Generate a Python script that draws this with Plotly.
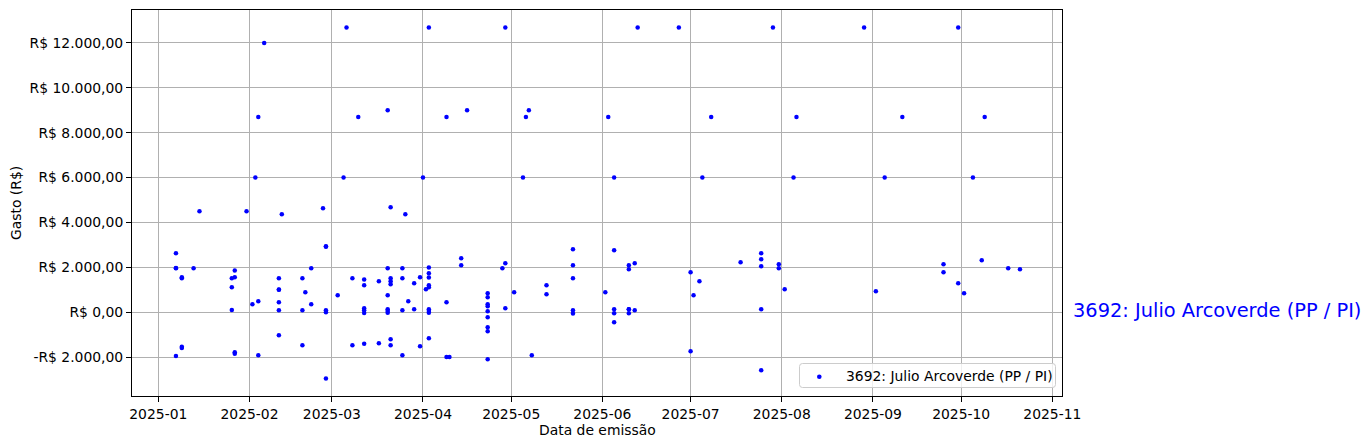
import plotly.graph_objects as go

# ---- data ----
dates = [
    "2025-01-07", "2025-01-07", "2025-01-07", "2025-01-07",
    "2025-01-09", "2025-01-09", "2025-01-09", "2025-01-09",
    "2025-01-13", "2025-01-15",
    "2025-01-26", "2025-01-26", "2025-01-26",
    "2025-01-27", "2025-01-27", "2025-01-27", "2025-01-27",
    "2025-01-31",
    "2025-02-02", "2025-02-03", "2025-02-04", "2025-02-04", "2025-02-04", "2025-02-06",
    "2025-02-11", "2025-02-11", "2025-02-11", "2025-02-11", "2025-02-11", "2025-02-11",
    "2025-02-12",
    "2025-02-19", "2025-02-19", "2025-02-19", "2025-02-20",
    "2025-02-22", "2025-02-22",
    "2025-02-26", "2025-02-27", "2025-02-27", "2025-02-27", "2025-02-27", "2025-02-27",
    "2025-03-03", "2025-03-05", "2025-03-06", "2025-03-08", "2025-03-08", "2025-03-10",
    "2025-03-12", "2025-03-12", "2025-03-12", "2025-03-12", "2025-03-12", "2025-03-12",
    "2025-03-17", "2025-03-17",
    "2025-03-20", "2025-03-20", "2025-03-20", "2025-03-20", "2025-03-20", "2025-03-20",
    "2025-03-21", "2025-03-21", "2025-03-21", "2025-03-21", "2025-03-21", "2025-03-21",
    "2025-03-25", "2025-03-25", "2025-03-25", "2025-03-25",
    "2025-03-26", "2025-03-27", "2025-03-29", "2025-03-29", "2025-03-31", "2025-03-31",
    "2025-04-01", "2025-04-02", "2025-04-03",
    "2025-04-03", "2025-04-03", "2025-04-03", "2025-04-03", "2025-04-03",
    "2025-04-03", "2025-04-03", "2025-04-03", "2025-04-03",
    "2025-04-09", "2025-04-09", "2025-04-09", "2025-04-10",
    "2025-04-14", "2025-04-14", "2025-04-16",
    "2025-04-23", "2025-04-23", "2025-04-23", "2025-04-23", "2025-04-23",
    "2025-04-23", "2025-04-23", "2025-04-23", "2025-04-23",
    "2025-04-28", "2025-04-29", "2025-04-29", "2025-04-29",
    "2025-05-02", "2025-05-05", "2025-05-06", "2025-05-07", "2025-05-08",
    "2025-05-13", "2025-05-13",
    "2025-05-22", "2025-05-22", "2025-05-22", "2025-05-22", "2025-05-22",
    "2025-06-02", "2025-06-03", "2025-06-05",
    "2025-06-05", "2025-06-05", "2025-06-05", "2025-06-05",
    "2025-06-10", "2025-06-10", "2025-06-10", "2025-06-10", "2025-06-10",
    "2025-06-12", "2025-06-12", "2025-06-13", "2025-06-27",
    "2025-07-01", "2025-07-01", "2025-07-02", "2025-07-04", "2025-07-05", "2025-07-08",
    "2025-07-18",
    "2025-07-25", "2025-07-25", "2025-07-25", "2025-07-25", "2025-07-25",
    "2025-07-29", "2025-07-31", "2025-07-31",
    "2025-08-02", "2025-08-05", "2025-08-06", "2025-08-29",
    "2025-09-02", "2025-09-05", "2025-09-11", "2025-09-25", "2025-09-25",
    "2025-09-30", "2025-09-30",
    "2025-10-02", "2025-10-05", "2025-10-08", "2025-10-09", "2025-10-17", "2025-10-21",
]

values = [
    2630, 1960, 1975, -1950,
    1560, 1515, -1535, -1590,
    1960, 4500,
    1115, 1515, 100,
    1855, 1560, -1785, -1845,
    4500,
    360, 6000, 490, -1920, 8700, 12000,
    1515, 1000, 1010, 445, 90, -1025,
    4370,
    1515, 90, -1470, 890,
    1960, 360,
    4640, 2940, 2920, 90, 0, -2950,
    760, 6000, 12690, 1515, -1470, 8700,
    1455, 1205, 180, 90, -30, -1400,
    1385, -1385,
    1960, 9000, 760, 135, 60, -20,
    4680, 1515, 1385, 1250, -1205, -1470,
    1960, 1515, 90, -1920,
    4370, 490, 1290, 135, 1560, -1515,
    6000, 1025, 12690,
    1990, 1740, 1545, 1205, 1115,
    135, 50, -20, -1160,
    8700, 445, -2000, -2000,
    2410, 2095, 9000,
    845, 670, 355, 270, 45,
    -225, -670, -845, -2095,
    1960, 12690, 2185, 180,
    890, 6000, 8700, 9000, -1920,
    1205, 805,
    2810, 2095, 1515, 90, -60,
    890, 8700, 6000,
    2765, 135, -45, -445,
    2095, 1920, 135, 130, -45,
    2185, 90, 12690, 12690,
    1785, -1740, 760, 1385, 6000, 8700,
    2230,
    2630, 2365, 2050, 135, -2590,
    12690, 2140, 1960,
    1025, 6000, 8700, 12690,
    935, 6000, 8700, 2140, 1785,
    12690, 1290,
    845, 6000, 2320, 8700, 1960, 1920,
]

series_name = "3692: Julio Arcoverde (PP / PI)"
y_tick_vals = [-2000, 0, 2000, 4000, 6000, 8000, 10000, 12000]
y_tick_text = ["-R$ 2.000,00", "R$ 0,00", "R$ 2.000,00", "R$ 4.000,00",
               "R$ 6.000,00", "R$ 8.000,00", "R$ 10.000,00", "R$ 12.000,00"]
x_title = "Data de emissão"
y_title = "Gasto (R$)"

FONT = "DejaVu Sans"
# page has an 8px body margin: figure is placed at (8, 8)
OFF = 8
W, H = 1370 - OFF, 448 - OFF
# plot area in page pixels
L, R, T, B = 132, 1062, 10, 396


def px(x):
    return (x - L) / (R - L)


def py(y):
    return (B - y) / (B - T)


fig = go.Figure()
fig.add_trace(go.Scatter(
    x=dates, y=values, mode="markers", name=series_name,
    marker=dict(color="blue", size=4.5, line=dict(width=0)),
    showlegend=False,
))

axis_common = dict(
    showgrid=True, gridcolor="#b0b0b0", gridwidth=1,
    showline=True, linecolor="black", linewidth=1, mirror=True,
    ticks="outside", ticklen=5, tickwidth=1, tickcolor="black",
    tickfont=dict(family=FONT, size=13.9, color="black"),
    zeroline=False,
)

fig.update_layout(
    width=W, height=H,
    margin=dict(l=L - OFF, r=1370 - R, t=T - OFF, b=448 - B, autoexpand=False),
    paper_bgcolor="white", plot_bgcolor="white",
    font=dict(family=FONT, size=13.9, color="black"),
    xaxis=dict(
        **axis_common,
        type="date",
        range=["2024-12-23 01:22", "2025-11-04 07:00"],
        tick0="2025-01-01", dtick="M1", tickformat="%Y-%m",
    ),
    yaxis=dict(
        **axis_common,
        range=[-3733, 13470],
        tickvals=y_tick_vals, ticktext=y_tick_text,
    ),
    showlegend=False,
)

# ---- legend box (matplotlib style, lower right) ----
lx0, lx1, ly0, ly1, rr = 799.5, 1055.5, 363.5, 387.5, 3
path = (
    f"M {px(lx0 + rr)} {py(ly0)} L {px(lx1 - rr)} {py(ly0)} "
    f"Q {px(lx1)} {py(ly0)} {px(lx1)} {py(ly0 + rr)} "
    f"L {px(lx1)} {py(ly1 - rr)} Q {px(lx1)} {py(ly1)} {px(lx1 - rr)} {py(ly1)} "
    f"L {px(lx0 + rr)} {py(ly1)} Q {px(lx0)} {py(ly1)} {px(lx0)} {py(ly1 - rr)} "
    f"L {px(lx0)} {py(ly0 + rr)} Q {px(lx0)} {py(ly0)} {px(lx0 + rr)} {py(ly0)} Z"
)
fig.add_shape(type="path", xref="paper", yref="paper", path=path,
              fillcolor="rgba(255,255,255,0.8)", line=dict(color="#cccccc", width=1),
              layer="above")
mx, my, mr = 819.3, 376.7, 2.3
fig.add_shape(type="circle", xref="paper", yref="paper",
              x0=px(mx - mr), x1=px(mx + mr), y0=py(my + mr), y1=py(my - mr),
              fillcolor="blue", line=dict(width=0), layer="above")
fig.add_annotation(
    text=series_name, xref="paper", yref="paper", x=px(844), y=py(376),
    xanchor="left", yanchor="middle", showarrow=False,
    font=dict(family=FONT, size=13.9, color="black"),
)

fig.add_annotation(
    text=x_title, xref="paper", yref="paper", x=0.5, y=py(430),
    xanchor="center", yanchor="middle", showarrow=False,
    font=dict(family=FONT, size=13.9, color="black"),
)
fig.add_annotation(
    text=y_title, xref="paper", yref="paper", x=px(16), y=0.5,
    xanchor="center", yanchor="middle", textangle=-90, showarrow=False,
    font=dict(family=FONT, size=13.9, color="black"),
)
fig.add_annotation(
    text=series_name, xref="paper", yref="y", x=px(1071), y=0, yshift=2,
    xanchor="left", yanchor="middle", showarrow=False,
    font=dict(family=FONT, size=19.4, color="blue"),
)

fig.write_html("out.html")
